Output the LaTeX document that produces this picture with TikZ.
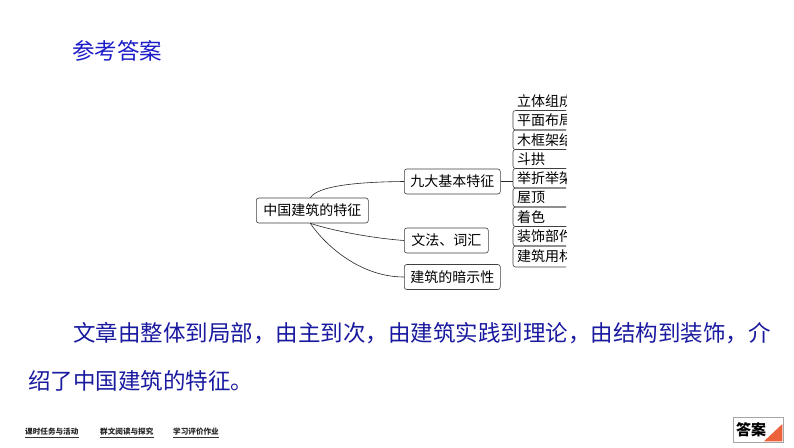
\documentclass[tikz,border=0pt]{standalone}
\usepackage{fontspec}
\newfontfamily\cjk{Noto Sans CJK SC}
\definecolor{titleblue}{RGB}{28,28,200}
\definecolor{parablue}{RGB}{26,26,160}
\definecolor{btnorange}{RGB}{236,98,58}
\begin{document}
\begin{tikzpicture}[x=1pt,y=-1pt,
  mbox/.style={draw=black!75, line width=0.6pt, rounded corners=2.5pt, font=\cjk\fontsize{14}{14}\selectfont,
    inner xsep=6pt, inner ysep=0pt, minimum height=25pt, anchor=west},
  link/.style={draw=black!85, line width=0.6pt},
  itembox/.style={draw=black!75, line width=0.6pt, rounded corners=2.5pt},
  itemtxt/.style={font=\cjk\fontsize{14}{14}\selectfont, inner sep=0pt, anchor=west},
  foot/.style={font=\cjk\bfseries\fontsize{7.6}{7.6}\selectfont, inner sep=0pt, anchor=west, text=black!85}
]
\useasboundingbox (0,0) rectangle (794,447);
\fill[white] (0,0) rectangle (794,447);

% title
\node[font=\cjk\fontsize{22.5}{22.5}\selectfont, text=titleblue, inner sep=0pt, anchor=west] (title) at (72,51) {参考答案};

% mind map
\node[mbox, inner xsep=7pt] (root) at (256,210.5) {中国建筑的特征};
\node[mbox] (n1) at (404,181.5) {九大基本特征};
\node[mbox, inner xsep=7pt] (n2) at (404,240.5) {文法、词汇};
\node[mbox] (n3) at (404,277) {建筑的暗示性};

\draw[link] ([xshift=-2pt]root.north) .. controls (318,186) and (355,182) .. (n1.west);
\draw[link] ([xshift=-2pt]root.south) .. controls (330,230) and (370,238) .. (n2.west);
\draw[link] ([xshift=-2pt]root.south) .. controls (325,245) and (360,277) .. (n3.west);

\coordinate (lst) at (513,181.5);
\draw[link] (n1.east) -- (lst);

\begin{scope}
\clip (505,88) rectangle (566,275);
\draw[itembox] (513,110.5) rectangle (620,130);
\draw[itembox] (513,130) rectangle (620,149.5);
\draw[itembox] (513,149.5) rectangle (620,168.5);
\draw[itembox] (513,168.5) rectangle (620,188);
\draw[itembox] (513,188) rectangle (620,207);
\draw[itembox] (513,207) rectangle (620,226.5);
\draw[itembox] (513,226.5) rectangle (620,246);
\draw[itembox] (513,246) rectangle (620,267);
\node[itemtxt] (i1) at (517,101) {立体组成};
\node[itemtxt] (i2) at (517,120.5) {平面布局};
\node[itemtxt] (i3) at (517,140) {木框架结构};
\node[itemtxt] (i4) at (517,159) {斗拱};
\node[itemtxt] (i5) at (517,178.5) {举折举架};
\node[itemtxt] (i6) at (517,197.5) {屋顶};
\node[itemtxt] (i7) at (517,217) {着色};
\node[itemtxt] (i8) at (517,236.5) {装饰部件};
\node[itemtxt] (i9) at (517,256.5) {建筑用材};
\end{scope}

% paragraph
\node[font=\cjk\fontsize{22.5}{22.5}\selectfont, text=parablue, inner sep=0pt, anchor=west] (p1) at (73,333) {文章由整体到局部，由主到次，由建筑实践到理论，由结构到装饰，介};
\node[font=\cjk\fontsize{22.5}{22.5}\selectfont, text=parablue, inner sep=0pt, anchor=west] (p2) at (28,381) {绍了中国建筑的特征。};

% footer
\node[foot] (f1) at (25,432) {课时任务与活动};
\node[foot] (f2) at (100,432) {群文阅读与探究};
\node[foot] (f3) at (173,432) {学习评价作业};
\foreach \f in {f1,f2,f3}{\draw[black!80, line width=0.5pt] ([yshift=-1.5pt]\f.south west) -- ([yshift=-1.5pt]\f.south east);}

% answer button
\draw[black!35, line width=0.6pt] (733,417) rectangle (783,442);
\fill[btnorange] (782.3,424) -- (782.3,441.3) -- (764,441.3) -- cycle;
\node[font=\cjk\bfseries\fontsize{15}{15}\selectfont, inner sep=0pt, anchor=west] (btntxt) at (736,429.5) {答案};
\end{tikzpicture}
\end{document}
